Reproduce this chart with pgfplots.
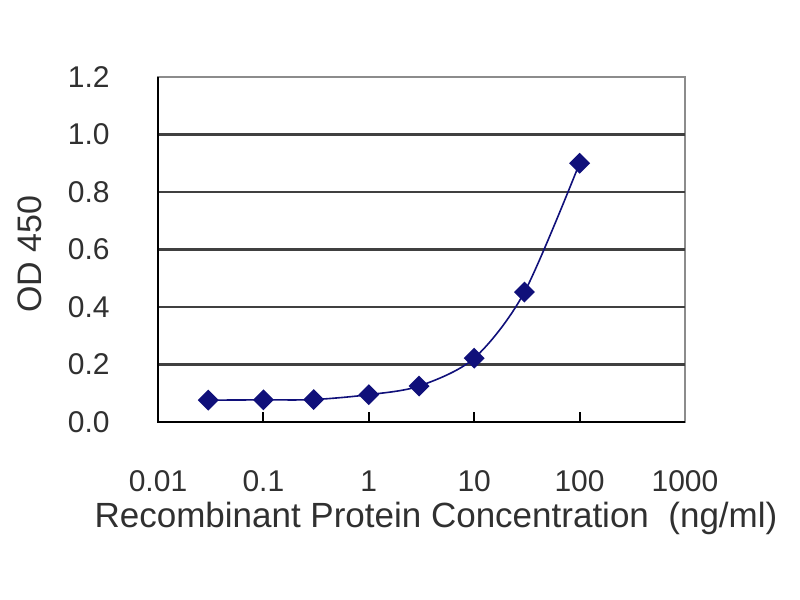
\documentclass[border=0pt]{standalone}
\usepackage{pgfplots}
\pgfplotsset{compat=1.18}
\usepackage{fontspec}
\setmainfont{Liberation Sans}
\definecolor{navy}{HTML}{10107A}
\definecolor{txt}{HTML}{303030}
\begin{document}
\begin{tikzpicture}[x=1pt,y=1pt]
\path[use as bounding box] (0,0) rectangle (400,300);
\begin{axis}[
  at={(79pt,89pt)}, anchor=south west,
  scale only axis, width=263.5pt, height=172.5pt,
  xmode=log, xmin=0.01, xmax=1000, ymin=0, ymax=1.2,
  xtick={0.01,0.1,1,10,100,1000},
  xticklabels={0.01,0.1,1,10,100,1000},
  ytick={0,0.2,0.4,0.6,0.8,1.0,1.2},
  yticklabels={0.0,0.2,0.4,0.6,0.8,1.0,1.2},
  extra y ticks={0.2,0.4,0.6,0.8,1.0},
  extra y tick labels={},
  extra y tick style={ymajorgrids=true, tick style={draw=none}},
  major grid style={black!75, line width=1.2pt},
  xtick pos=bottom, ytick pos=left,
  xtick align=inside,
  major tick length=5pt,
  x tick style={black, line width=1pt},
  y tick style={draw=none},
  xminorticks=false,
  axis line style={black!45, line width=0.8pt},
  xticklabel style={font=\fontsize{15}{17}\selectfont, text=txt, anchor=base, inner sep=0pt, yshift=-35pt},
  yticklabel style={font=\fontsize{15}{17}\selectfont, text=txt, anchor=east, inner sep=0pt, xshift=-24pt},
  xlabel={Recombinant Protein Concentration\ \ (ng/ml)},
  xlabel style={font=\fontsize{17.5}{20}\selectfont, text=txt, anchor=base, inner sep=0pt, at={(axis description cs:0.5275,-0.307)}},
  ylabel={OD 450},
  ylabel style={font=\fontsize{17}{19}\selectfont, text=txt, rotate=0, anchor=center, inner sep=0pt, at={(axis description cs:-0.243,0.487)}},
  clip=false,
]
\addplot[navy, line width=0.8pt, smooth, tension=0.5, mark=square*, mark size=3.3pt, mark options={rotate=45, fill=navy, draw=navy}]
  coordinates {(0.03,0.076) (0.1,0.077) (0.3,0.078) (1,0.095) (3,0.125) (10,0.222) (30,0.452) (100,0.90)};
\draw[black, line width=1.1pt] (rel axis cs:0,1) -- (rel axis cs:0,0) -- (rel axis cs:1,0);
\end{axis}
\end{tikzpicture}
\end{document}
